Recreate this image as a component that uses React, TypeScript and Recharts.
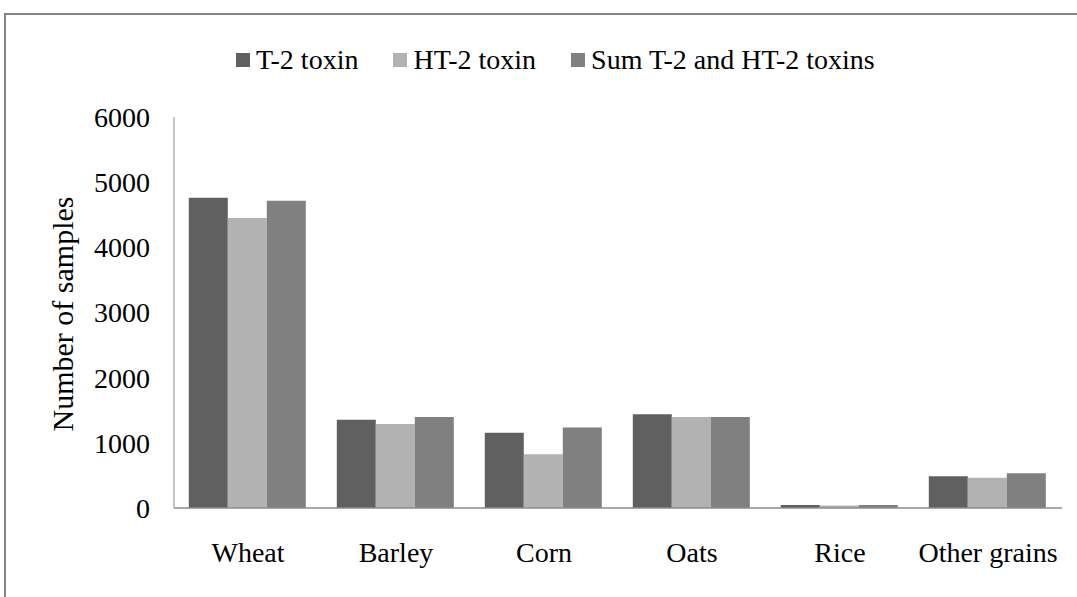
import React from 'react'
import { BarChart, Bar, XAxis, YAxis } from 'recharts'

const grains = ['Wheat', 'Barley', 'Corn', 'Oats', 'Rice', 'Other grains']
const t2 = [4760, 1354, 1155, 1437, 46, 486]
const ht2 = [4452, 1288, 823, 1396, 40, 465]
const sumT2HT2 = [4713, 1396, 1237, 1396, 46, 532]
const yTicks = [0, 1000, 2000, 3000, 4000, 5000, 6000]

const seriesKeys = ['t2', 'ht2', 'sum']
const seriesNames = ['T-2 toxin', 'HT-2 toxin', 'Sum T-2 and HT-2 toxins']
const seriesColors = ['#606060', '#b2b2b2', '#808080']

const FONT = '"Liberation Serif", "Times New Roman", serif'

const data = grains.map((g, i) => ({
  grain: g,
  t2: t2[i],
  ht2: ht2[i],
  sum: sumT2HT2[i],
}))

function YLabel() {
  return (
    <text
      transform="translate(62, 314) rotate(-90)"
      textAnchor="middle"
      dominantBaseline="central"
      fontFamily={FONT}
      fontSize={30}
      fill="#000"
    >
      Number of samples
    </text>
  )
}

function TopLegend() {
  return (
    <div
      style={{
        position: 'absolute',
        left: 236,
        top: 43,
        display: 'flex',
        alignItems: 'center',
        fontFamily: FONT,
        fontSize: 28,
        color: '#000',
        whiteSpace: 'nowrap',
        lineHeight: '34px',
      }}
    >
      {seriesNames.map((n, i) => (
        <div key={n} style={{ display: 'flex', alignItems: 'center', marginRight: 35 }}>
          <span style={{ width: 14, height: 14, background: seriesColors[i], marginRight: 6, display: 'inline-block' }} />
          <span>{n}</span>
        </div>
      ))}
    </div>
  )
}

export default function App() {
  return (
    <div style={{ position: 'absolute', left: 0, top: 0, width: 1077, height: 597, background: '#fff', overflow: 'hidden' }}>
      <div
        style={{
          position: 'absolute',
          left: 4,
          top: 13,
          width: 1080,
          height: 600,
          borderTop: '2px solid #858585',
          borderLeft: '2px solid #858585',
        }}
      />
      <TopLegend />
      <BarChart
        width={1077}
        height={597}
        data={data}
        margin={{ top: 117, right: 15, bottom: 59, left: 0 }}
        barCategoryGap="10%"
        barGap={0}
        style={{ position: 'absolute', left: 0, top: 0 }}
      >
        <XAxis
          dataKey="grain"
          height={30}
          tickLine={false}
          tickSize={0}
          tickMargin={34}
          axisLine={{ stroke: '#8c8c8c', strokeWidth: 1.5 }}
          tick={{ fill: '#000', fontSize: 28, fontFamily: FONT }}
          interval={0}
        />
        <YAxis
          width={174}
          domain={[0, 6000]}
          ticks={yTicks}
          tickLine={false}
          tickSize={0}
          tickMargin={24}
          axisLine={{ stroke: '#8c8c8c', strokeWidth: 1 }}
          tick={{ fill: '#000', fontSize: 28, fontFamily: FONT }}
          label={{ content: YLabel }}
        />
        {seriesKeys.map((k, i) => (
          <Bar key={k} dataKey={k} name={seriesNames[i]} fill={seriesColors[i]} isAnimationActive={false} />
        ))}
      </BarChart>
    </div>
  )
}
